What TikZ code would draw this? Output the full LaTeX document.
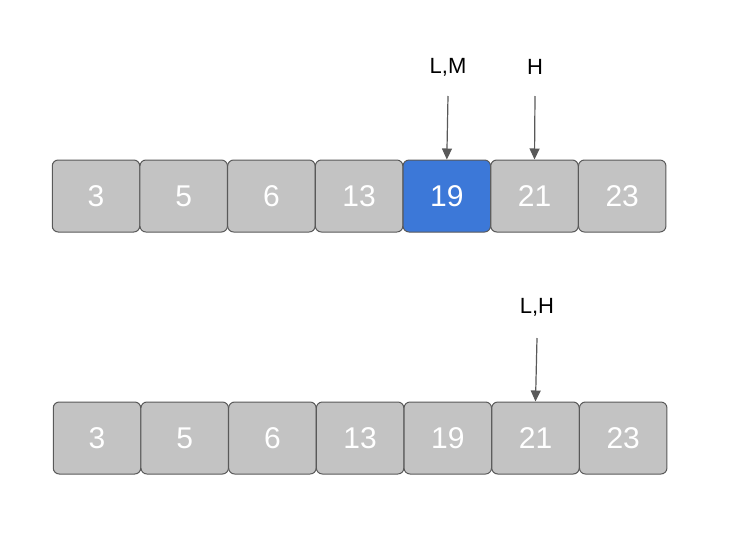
\documentclass[tikz,border=0pt]{standalone}
\usepackage{fontspec}
\setmainfont{Liberation Sans}
\usetikzlibrary{arrows.meta}
\definecolor{cellgray}{HTML}{C3C3C3}
\definecolor{cellblue}{HTML}{3C78D8}
\definecolor{edge}{HTML}{595959}
\begin{document}
\begin{tikzpicture}[x=1pt,y=-1pt,
  cell/.style={draw=edge,line width=1pt,fill=cellgray,rounded corners=6pt,minimum width=87.5pt,minimum height=72pt,inner sep=0pt,text=white,font=\fontsize{30}{36}\selectfont},
  lab/.style={font=\fontsize{22}{26}\selectfont,text=black},
  ptr/.style={draw=edge,line width=1.2pt,-{Triangle[length=11pt,width=10pt]}}]
\useasboundingbox (0,0) rectangle (736,536);
\foreach \v [count=\i] in {3,5,6,13,19,21,23}{
  \ifnum\i=5
    \node[cell,fill=cellblue] (a\i) at ({96+87.7*(\i-1)},196) {\v};
  \else
    \node[cell] (a\i) at ({96+87.7*(\i-1)},196) {\v};
  \fi
  \node[cell] (b\i) at ({97+87.7*(\i-1)},438) {\v};
}
\node[lab] (lm) at (448,67) {L,M};
\node[lab] (h) at (535,67) {H};
\node[lab] (lh) at (537,307) {L,H};
\coordinate (s1) at (448,96);
\coordinate (s2) at (535,96);
\coordinate (s3) at (537,338);
\draw[ptr] (s1) -- (a5.north);
\draw[ptr] (s2) -- (a6.north);
\draw[ptr] (s3) -- (b6.north);
\end{tikzpicture}
\end{document}
